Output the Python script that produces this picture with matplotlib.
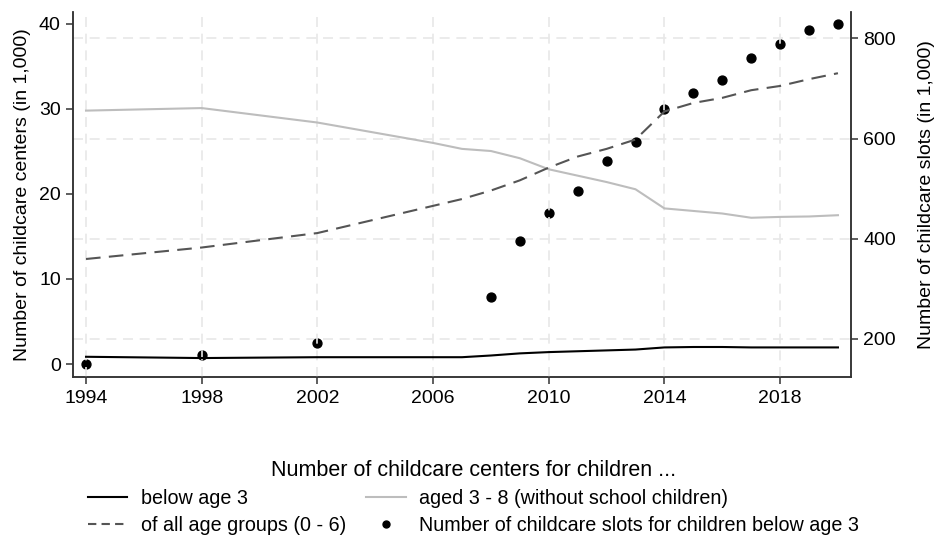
import matplotlib
matplotlib.use("agg")
import matplotlib.pyplot as plt
from matplotlib.lines import Line2D

plt.rcParams['font.family'] = ['Liberation Sans', 'DejaVu Sans']

# Number of childcare centers (in 1,000)
center_years = [1994, 1998, 2002, 2006, 2007, 2008, 2009, 2010, 2011, 2012,
                2013, 2014, 2015, 2016, 2017, 2018, 2019, 2020]
below_3 = [0.85, 0.7, 0.8, 0.8, 0.8, 1.0, 1.25, 1.4, 1.5, 1.6,
           1.7, 1.95, 2.0, 2.0, 1.95, 1.95, 1.95, 1.95]
aged_3_8 = [29.8, 30.1, 28.4, 26.0, 25.3, 25.05, 24.2, 22.9, 22.15, 21.4,
            20.55, 18.3, 18.0, 17.7, 17.2, 17.3, 17.35, 17.5]
all_ages = [12.35, 13.7, 15.4, 18.6, 19.4, 20.4, 21.6, 23.1, 24.4, 25.3,
            26.4, 29.7, 30.7, 31.3, 32.2, 32.7, 33.5, 34.2]

# Number of childcare slots for children below age 3 (in 1,000)
slot_years = [1994, 1998, 2002, 2008, 2009, 2010, 2011, 2012, 2013,
              2014, 2015, 2016, 2017, 2018, 2019, 2020]
slots_below_3 = [150, 167, 191, 284, 395, 452, 495, 555, 593,
                 658, 690, 716, 761, 789, 817, 828]

x_ticks = [1994, 1998, 2002, 2006, 2010, 2014, 2018]
left_ticks = [0, 10, 20, 30, 40]
right_ticks = [200, 400, 600, 800]

FS = 14

fig = plt.figure(figsize=(9.35, 5.35), dpi=100)
ax = fig.add_axes([0.0784, 0.2953, 0.8314, 0.6823])
ax2 = ax.twinx()
ax.set_zorder(ax2.get_zorder() + 1)
ax.patch.set_visible(False)

tone = "#333333"
grid_kw = dict(color="#e8e8e8", ls=(0, (6, 4)), lw=1.2)

l1, = ax.plot(center_years, below_3, color="black", lw=1.5, label="below age 3")
l2, = ax.plot(center_years, aged_3_8, color="#bdbdbd", lw=1.5,
              label="aged 3 - 8 (without school children)")
ax.plot(center_years, all_ages, color="#555555", lw=1.5, ls=(0, (7, 4)))
ax2.plot(slot_years, slots_below_3, "o", color="black", ms=6.4, zorder=3)

# legend proxies (shorter dashes in the key, smaller dot)
dash = Line2D([], [], color="#555555", lw=1.5, ls=(0, (4, 2.5)),
              label="of all age groups (0 - 6)")
dot = Line2D([], [], marker="o", ls="none", color="black", ms=5,
             label="Number of childcare slots for children below age 3")

ax.set_xlim(1993.56, 2020.44)
ax.set_ylim(-1.53, 41.4)
ax2.set_ylim(124, 852.5)
ax.set_xticks(x_ticks)
ax.set_yticks(left_ticks)
ax2.set_yticks(right_ticks)

ax.xaxis.grid(True, **grid_kw)
ax2.yaxis.grid(True, **grid_kw)
ax2.set_axisbelow(True)

for a in (ax, ax2):
    a.spines["top"].set_visible(False)
    for s in a.spines.values():
        s.set_color(tone)
        s.set_linewidth(1.1)
    a.tick_params(length=5, width=1.1, color=tone, labelsize=FS, pad=4)

ax.set_ylabel("Number of childcare centers (in 1,000)", fontsize=FS, labelpad=6)
ax2.set_ylabel("Number of childcare slots (in 1,000)", fontsize=FS, labelpad=16)

leg = fig.legend(handles=[l1, dash, l2, dot], ncol=2, loc="upper left",
                 bbox_to_anchor=(88 / 935, 1 - 460 / 535), frameon=False,
                 title="Number of childcare centers for children ...",
                 title_fontsize=15.5, prop=dict(size=14.2),
                 handlelength=2.0, handletextpad=0.7, columnspacing=1.0,
                 labelspacing=0.4, borderpad=0, borderaxespad=0)

fig.savefig("out.png", dpi=100, facecolor="white")
